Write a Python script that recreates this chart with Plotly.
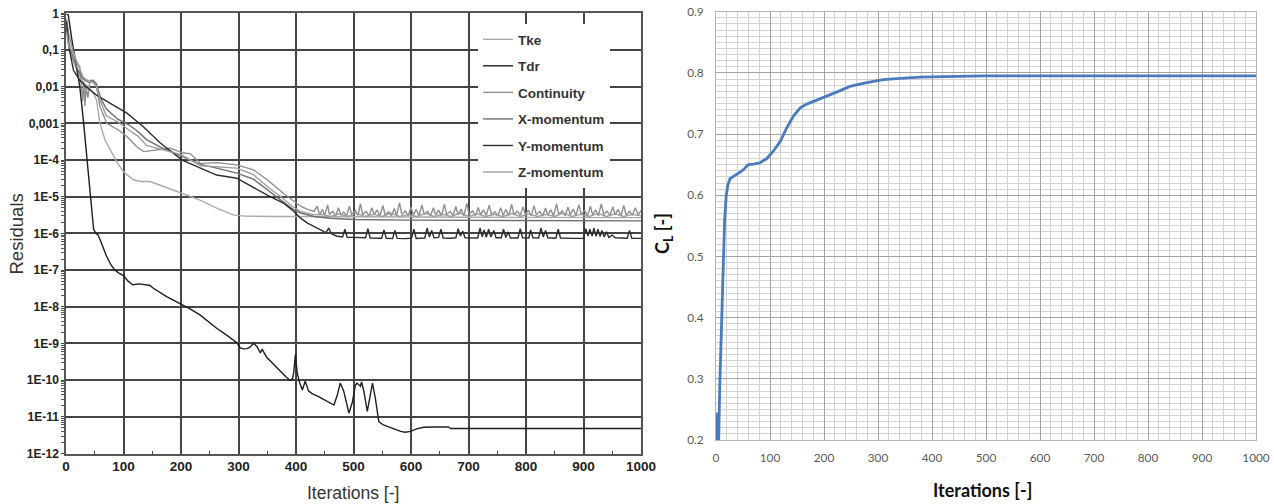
import plotly.graph_objects as go

# ---------------- Residual history (left panel) ----------------
tke_it = [1, 5, 10, 20, 30, 40, 48, 53, 59, 68, 77, 90, 100, 117, 130, 146, 170, 193, 213, 233,
          262, 291, 310, 326, 360, 396, 443, 500, 600, 700, 800, 900, 1000]
tke_res = [0.5, 0.13, 6.3e-2, 2.5e-2, 1.26e-2, 1e-2, 6.3e-3, 4.4e-3, 1e-3, 3.5e-4, 1.9e-4, 8e-5,
           4.8e-5, 2.9e-5, 2.6e-5, 2.6e-5, 1.9e-5, 1.4e-5, 1.05e-5, 8.1e-6, 4.9e-6, 3.2e-6,
           2.95e-6, 2.9e-6, 2.9e-6, 2.9e-6, 2.85e-6, 2.85e-6, 2.8e-6, 2.75e-6, 2.7e-6, 2.7e-6, 2.7e-6]

tdr_it = [1, 4, 10, 16, 24, 30, 37, 43, 48, 52, 56, 60, 65, 70, 78, 85, 92, 100, 108, 116, 128,
          140, 146, 152, 175, 199, 215, 233, 262, 280, 297, 303, 309, 315, 320, 326, 332, 338,
          341, 349, 360, 373, 382, 390, 394, 396, 399, 402, 406, 411, 416, 422, 428, 440, 455,
          466, 472, 477, 483, 492, 498, 503, 506, 510, 512, 514, 518, 524, 529, 533, 538, 544,
          552, 559, 570, 582, 590, 599, 610, 622, 640, 665, 669, 700, 800, 900, 1000]
tdr_res = [0.95, 0.9, 0.2, 5e-2, 1e-2, 1.3e-3, 1e-4, 8e-6, 1.3e-6, 1e-6, 9e-7, 6.3e-7, 4e-7,
           2.5e-7, 1.4e-7, 1e-7, 8.3e-8, 7.1e-8, 5e-8, 4e-8, 4.2e-8, 4e-8, 3.8e-8, 3.2e-8,
           1.9e-8, 1.2e-8, 8.9e-9, 6e-9, 2.6e-9, 1.66e-9, 1.05e-9, 7.6e-10, 7.1e-10, 7.2e-10,
           7.9e-10, 1e-9, 8.3e-10, 5.5e-10, 7e-10, 4.2e-10, 2.8e-10, 1.7e-10, 1.26e-10, 9.8e-11,
           1.1e-10, 1.6e-10, 5e-10, 1.6e-10, 8.9e-11, 5.4e-11, 9.3e-11, 5e-11, 4.3e-11, 3.5e-11,
           2.6e-11, 2.1e-11, 4e-11, 8.3e-11, 5e-11, 1.26e-11, 2.5e-11, 7e-11, 8.3e-11, 7e-11,
           6.8e-11, 8.9e-11, 5e-11, 1.4e-11, 4e-11, 8.3e-11, 3.2e-11, 7.4e-12, 6e-12, 5.4e-12,
           4.7e-12, 4e-12, 3.8e-12, 4e-12, 4.7e-12, 5.2e-12, 5.3e-12, 5.3e-12, 4.8e-12, 4.8e-12,
           4.8e-12, 4.8e-12, 4.8e-12]

cont_it = [1, 5, 12, 18, 24, 27, 29, 31, 33, 35, 38, 42, 48, 53, 59, 71, 91, 106, 123, 135, 150,
           164, 181, 204, 216, 225, 234, 262, 297, 326, 350, 379, 396, 408, 420, 431,
           437, 441, 446, 450, 455, 458, 464, 469, 474, 478, 483, 488, 493, 497, 503, 508, 512,
           516, 522, 527, 532, 536, 541, 546, 551, 555, 561, 566, 571, 575, 580, 584, 590, 595,
           600, 604, 609, 614, 619, 623, 629, 634, 639, 643, 648, 653, 658, 662, 668, 673, 678,
           682, 687, 692, 697, 701, 707, 712, 717, 721, 726, 731, 736, 740, 746, 751, 756, 760,
           765, 770, 775, 779, 785, 790, 795, 799, 804, 809, 814, 818, 824, 829, 834, 838, 843,
           848, 853, 857, 863, 868, 873, 877, 882, 887, 892, 896, 902, 907, 912, 916, 921, 926,
           931, 935, 941, 946, 951, 955, 960, 965, 970, 974, 980, 985, 990, 995, 1000]
cont_res = [0.7, 0.25, 0.1, 5e-2, 3.5e-2, 1e-2, 4e-3, 1.4e-2, 3e-3, 1e-2, 5e-3, 1.5e-2, 1.4e-2,
            1e-2, 2.9e-3, 1e-3, 6.6e-4, 4.4e-4, 2.3e-4, 1.7e-4, 1.8e-4, 1.9e-4, 2.1e-4, 1.55e-4,
            1.5e-4, 1.1e-4, 8.1e-5, 8.5e-5, 7.4e-5, 5.4e-5, 2.9e-5, 1.2e-5, 7.4e-6, 5.5e-6,
            4.5e-6, 4e-6,
            5.5e-6, 3.2e-6, 4.5e-6, 3.1e-6, 6e-6, 3.3e-6, 4e-6, 3e-6, 5e-6, 3.1e-6, 3.8e-6, 3e-6,
            5.5e-6, 3.2e-6, 4.2e-6, 3.1e-6, 6.5e-6, 3.3e-6, 4e-6, 3e-6, 5e-6, 3.2e-6, 4.4e-6,
            3e-6, 5.8e-6, 3.2e-6, 3.9e-6, 3e-6, 4.8e-6, 3.1e-6, 6.8e-6, 3.3e-6, 4.1e-6, 3e-6,
            5.2e-6, 3.2e-6, 4.5e-6, 3.1e-6, 6e-6, 3.3e-6, 4e-6, 3e-6, 5e-6, 3.2e-6, 4.3e-6, 3e-6,
            6.3e-6, 3.2e-6, 4e-6, 3.1e-6, 5.4e-6, 3.2e-6, 4.6e-6, 3e-6, 6.6e-6, 3.3e-6, 4.1e-6,
            3e-6, 5.1e-6, 3.2e-6, 4.4e-6, 3.1e-6, 5.9e-6, 3.2e-6, 3.9e-6, 3e-6, 5e-6, 3.1e-6,
            4.5e-6, 3e-6, 6.2e-6, 3.3e-6, 4e-6, 3.1e-6, 5.3e-6, 3.2e-6, 4.3e-6, 3e-6, 5.7e-6,
            3.2e-6, 4e-6, 3e-6, 4.9e-6, 3.1e-6, 4.4e-6, 3e-6, 6.4e-6, 3.3e-6, 4.1e-6, 3e-6,
            5.2e-6, 3.2e-6, 4.6e-6, 3.1e-6, 6.1e-6, 3.3e-6, 4.2e-6, 3e-6, 5.5e-6, 3.2e-6, 4.4e-6,
            3e-6, 6.5e-6, 3.3e-6, 4e-6, 3.1e-6, 5.3e-6, 3.2e-6, 4.5e-6, 3e-6, 5.8e-6, 3.2e-6,
            4e-6, 3.1e-6, 5e-6, 3.2e-6, 4.2e-6]

xmom_it = [1, 5, 10, 20, 30, 40, 47, 53, 60, 70, 90, 110, 125, 140, 165, 200, 234, 262, 297,
           326, 350, 379, 396, 408, 431, 460, 500, 600, 700, 800, 900, 1000]
xmom_res = [0.4, 0.15, 8e-2, 3e-2, 1.6e-2, 1.3e-2, 1.5e-2, 1.2e-2, 5e-3, 2.5e-3, 1.3e-3, 9e-4,
            6e-4, 3.6e-4, 2.2e-4, 1.3e-4, 7.6e-5, 6e-5, 4.4e-5, 3e-5, 1.55e-5, 7e-6, 4.4e-6,
            3.6e-6, 2.9e-6, 2.6e-6, 2.4e-6, 2.3e-6, 2.3e-6, 2.25e-6, 2.25e-6, 2.2e-6]

ymom_it = [1, 5, 13, 24, 35, 53, 80, 106, 135, 164, 202, 234, 262, 297, 320, 350, 379, 396, 408,
           420, 431, 442, 452, 457, 461, 470, 481, 485, 489, 500, 521, 525, 529, 549, 553, 557,
           568, 572, 576, 590, 601, 605, 609, 624, 628, 632, 636, 640, 648, 652, 656, 670, 678,
           682, 686, 690, 694, 716, 720, 724, 727, 731, 735, 739, 744, 748, 757, 761, 765, 769,
           773, 786, 790, 794, 805, 808, 812, 822, 826, 830, 834, 838, 852, 856, 860, 880, 900,
           904, 908, 911, 915, 918, 922, 925, 929, 932, 936, 940, 944, 950, 955, 976, 980, 984,
           1000]
ymom_res = [0.6, 0.12, 2.8e-2, 1.5e-2, 1e-2, 5.9e-3, 3.3e-3, 1.9e-3, 8e-4, 2.9e-4, 1e-4, 6e-5,
            3.9e-5, 3.2e-5, 2e-5, 1.1e-5, 6.6e-6, 4e-6, 2.6e-6, 1.9e-6, 1.55e-6, 1.25e-6,
            1.05e-6, 1.4e-6, 1e-6, 8.5e-7, 8e-7, 1.3e-6, 7.8e-7, 7.8e-7, 7.6e-7, 1.35e-6, 7.5e-7,
            7.4e-7, 1.25e-6, 7.4e-7, 7.3e-7, 1.2e-6, 7.3e-7, 7.2e-7, 7.4e-7, 1.3e-6, 7.3e-7,
            7.5e-7, 1.4e-6, 8e-7, 1.2e-6, 7.6e-7, 7.8e-7, 1.3e-6, 7.5e-7, 7.4e-7, 7.6e-7,
            1.35e-6, 8.5e-7, 1.15e-6, 7.6e-7, 7.5e-7, 1.4e-6, 8e-7, 1.25e-6, 7.8e-7, 1.3e-6,
            8e-7, 1.2e-6, 7.6e-7, 7.6e-7, 1.3e-6, 7.7e-7, 1.1e-6, 7.5e-7, 7.5e-7, 1.35e-6,
            7.6e-7, 7.5e-7, 1.25e-6, 7.6e-7, 7.5e-7, 1.4e-6, 8e-7, 1.2e-6, 7.6e-7, 7.4e-7,
            1.3e-6, 7.5e-7, 7.3e-7, 7.4e-7, 1.35e-6, 8.5e-7, 1.3e-6, 8.5e-7, 1.4e-6, 8.3e-7,
            1.3e-6, 8.2e-7, 1.2e-6, 8e-7, 1.1e-6, 7.8e-7, 9e-7, 7.6e-7, 7.4e-7, 1.2e-6, 7.4e-7,
            7.3e-7]

zmom_it = [1, 5, 10, 20, 30, 40, 47, 53, 60, 70, 90, 110, 125, 140, 165, 200, 234, 262, 297,
           326, 350, 379, 396, 408, 431, 445, 460, 475, 490, 505, 520, 535, 550, 565, 580, 595,
           610, 625, 640, 655, 670, 685, 700, 715, 730, 745, 760, 775, 790, 805, 820, 835, 850,
           865, 880, 895, 910, 925, 940, 955, 970, 985, 1000]
zmom_res = [0.3, 0.12, 0.1, 4e-2, 1.8e-2, 1.4e-2, 1.3e-2, 1e-2, 4e-3, 1.6e-3, 1.1e-3, 6.5e-4,
            4.5e-4, 2.5e-4, 2e-4, 1.4e-4, 7e-5, 6.5e-5, 6e-5, 4e-5, 1.9e-5, 8.5e-6, 5.1e-6,
            4e-6, 3.2e-6, 3.3e-6, 2.9e-6, 3.4e-6, 2.9e-6, 3.5e-6, 2.9e-6, 3.3e-6, 2.9e-6,
            3.6e-6, 2.9e-6, 3.3e-6, 2.9e-6, 3.5e-6, 2.9e-6, 3.3e-6, 2.9e-6, 3.6e-6, 2.9e-6,
            3.4e-6, 2.9e-6, 3.3e-6, 2.9e-6, 3.5e-6, 2.9e-6, 3.4e-6, 2.9e-6, 3.3e-6, 2.9e-6,
            3.6e-6, 2.9e-6, 3.3e-6, 2.9e-6, 3.5e-6, 2.9e-6, 3.4e-6, 2.9e-6, 3.3e-6, 3e-6]

residual_series = [
    ("Tke", tke_it, tke_res, "#ababab"),
    ("Tdr", tdr_it, tdr_res, "#1e1e1e"),
    ("Continuity", cont_it, cont_res, "#8e8e8e"),
    ("X-momentum", xmom_it, xmom_res, "#6f6f6f"),
    ("Y-momentum", ymom_it, ymom_res, "#2e2e2e"),
    ("Z-momentum", zmom_it, zmom_res, "#9d9d9d"),
]

res_tick_vals = [1, 1e-1, 1e-2, 1e-3, 1e-4, 1e-5, 1e-6, 1e-7, 1e-8, 1e-9, 1e-10, 1e-11, 1e-12]
res_tick_text = ["1", "0,1", "0,01", "0,001", "1E-4", "1E-5", "1E-6", "1E-7", "1E-8", "1E-9",
                 "1E-10", "1E-11", "1E-12"]

# ---------------- Lift coefficient history (right panel) ----------------
cl_it = [0, 2, 3, 4, 5, 7, 10, 13, 16, 19, 22, 26, 32, 38, 45, 51, 56, 60, 69, 81, 94, 106,
         119, 131, 143, 156, 168, 186, 205, 230, 248, 279, 310, 341, 378, 420, 500, 600, 700,
         800, 900, 1000]
cl_val = [0.2, 0.245, 0.245, 0.2, 0.2, 0.29, 0.39, 0.49, 0.56, 0.60, 0.617, 0.627, 0.631,
          0.634, 0.638, 0.642, 0.647, 0.65, 0.651, 0.653, 0.66, 0.672, 0.688, 0.71, 0.729, 0.743,
          0.749, 0.755, 0.762, 0.771, 0.778, 0.784, 0.789, 0.791, 0.793, 0.794, 0.795, 0.795,
          0.795, 0.795, 0.795, 0.795]

W, H = 1274, 504


def px_x(p):
    return p / W


def px_y(p):
    return 1 - p / H


fig = go.Figure()

for name, it, res, col in residual_series:
    fig.add_trace(go.Scatter(
        x=it, y=res, name=name, mode="lines",
        line=dict(color=col, width=1.4),
        legendgroup=name,
        xaxis="x", yaxis="y",
    ))

fig.add_trace(go.Scatter(
    x=cl_it, y=cl_val, mode="lines", showlegend=False,
    line=dict(color="#4a7cbc", width=2.8),
    xaxis="x2", yaxis="y2",
))

minor_res = [m * 10.0 ** k for k in range(-12, 0) for m in range(2, 10)]

left_yfont = dict(family="Liberation Sans, Arial", size=12, color="#222222", weight="bold")
left_xfont = dict(family="Liberation Sans, Arial", size=13.5, color="#222222", weight="bold")
right_font = dict(family="Lato, Open Sans", size=11.8, color="#5a5a5a")
right_title = dict(family="Lato, Open Sans", size=18, color="#111111", weight="bold")

fig.update_layout(
    template="none",
    width=W, height=H, autosize=False,
    margin=dict(l=0, r=0, t=0, b=0, pad=0, autoexpand=False),
    paper_bgcolor="white", plot_bgcolor="white",
    showlegend=True,
    legend=dict(
        x=px_x(478), y=px_y(24), xanchor="left", yanchor="top",
        bgcolor="white", borderwidth=0,
        font=dict(family="Liberation Sans, Arial", size=13.5, color="#333333", weight="bold"),
        traceorder="grouped", tracegroupgap=6,
        itemwidth=30,
    ),
    xaxis=dict(
        domain=[px_x(66), px_x(641)], anchor="y", automargin=False,
        range=[0, 1000], tickmode="linear", tick0=0, dtick=100,
        showgrid=True, gridcolor="#454545", gridwidth=1.5,
        showline=True, linecolor="#555555", linewidth=1.5, mirror=True,
        ticks="inside", ticklen=3, tickcolor="#444444",
        minor=dict(dtick=50, ticks="inside", ticklen=3, tickcolor="#444444", showgrid=False),
        tickfont=left_xfont, zeroline=False,
    ),
    yaxis=dict(
        domain=[px_y(453.5), px_y(13.3)], anchor="x", automargin=False,
        type="log", range=[-12, 0],
        tickmode="array", tickvals=res_tick_vals, ticktext=res_tick_text,
        showgrid=True, gridcolor="#454545", gridwidth=1.5,
        showline=True, linecolor="#555555", linewidth=1.5, mirror=True,
        ticks="outside", ticklen=3, tickcolor="#444444",
        minor=dict(tickmode="array", tickvals=minor_res, ticks="outside", ticklen=3,
                   tickcolor="#555555", showgrid=False),
        tickfont=left_yfont, zeroline=False,
    ),
    xaxis2=dict(
        domain=[px_x(716), px_x(1256)], anchor="y2", automargin=False,
        range=[0, 1000], tickmode="linear", tick0=0, dtick=100,
        showgrid=True, gridcolor="#a3a3a3", gridwidth=1,
        minor=dict(dtick=20, showgrid=True, gridcolor="#d3d3d3", gridwidth=1),
        showline=True, linecolor="#b5b5b5", linewidth=1, mirror=True,
        ticks="", ticklabelstandoff=7, tickfont=right_font, zeroline=False,
    ),
    yaxis2=dict(
        domain=[px_y(440), px_y(11.7)], anchor="x2", automargin=False,
        range=[0.2, 0.9], tickmode="linear", tick0=0.2, dtick=0.1,
        tickformat=".1f",
        showgrid=True, gridcolor="#a3a3a3", gridwidth=1,
        minor=dict(dtick=0.01, showgrid=True, gridcolor="#d3d3d3", gridwidth=1),
        showline=True, linecolor="#b5b5b5", linewidth=1, mirror=True,
        ticks="", ticklabelstandoff=9, tickfont=right_font, zeroline=False,
    ),
    annotations=[
        dict(text="Residuals", x=px_x(16), y=px_y(234.5), xref="paper", yref="paper",
             xanchor="center", yanchor="middle", textangle=-90, showarrow=False,
             font=dict(family="Liberation Sans, Arial", size=18.5, color="#333333")),
        dict(text="Iterations [-]", x=px_x(353), y=px_y(493), xref="paper", yref="paper",
             xanchor="center", yanchor="middle", showarrow=False,
             font=dict(family="Liberation Sans, Arial", size=17.5, color="#333333")),
        dict(text="C<sub>L</sub> [-]", x=px_x(663), y=px_y(234), xref="paper", yref="paper",
             xanchor="center", yanchor="middle", textangle=-90, showarrow=False,
             font=right_title),
        dict(text="Iterations [-]", x=px_x(982), y=px_y(490), xref="paper", yref="paper",
             xanchor="center", yanchor="middle", showarrow=False,
             font=right_title),
    ],
)

fig.write_html("out.html")
